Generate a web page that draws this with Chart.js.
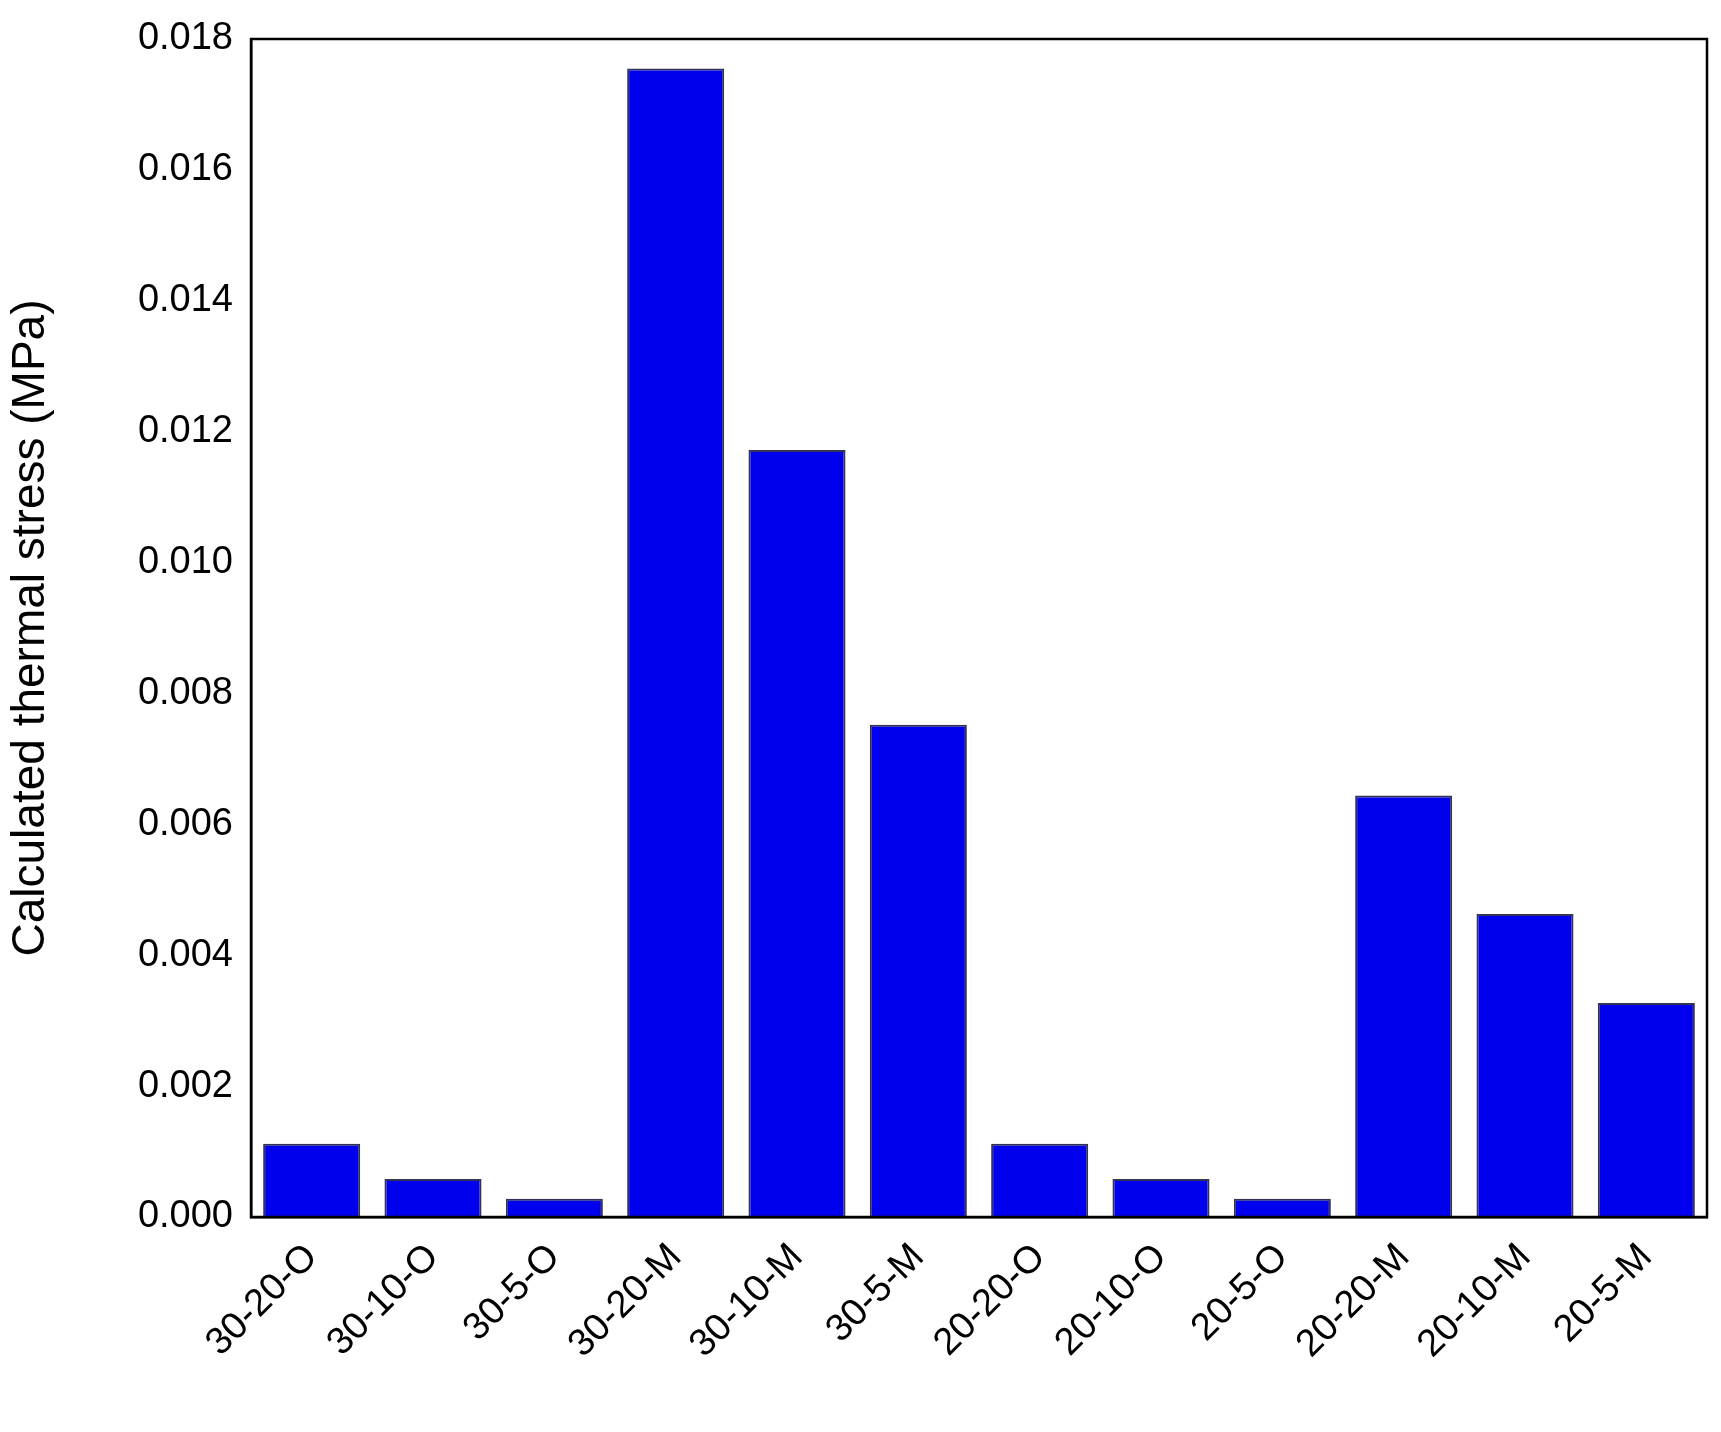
<!DOCTYPE html>
<html><head><meta charset="utf-8">
<script src="https://cdn.jsdelivr.net/npm/chart.js@4/dist/chart.umd.min.js"></script>
<style>html,body{margin:0;padding:0;background:#fff}#w{width:1721px;height:1432px}</style>
</head><body><div id="w"><canvas id="c"></canvas></div>
<script>
const categories=["30-20-O","30-10-O","30-5-O","30-20-M","30-10-M","30-5-M","20-20-O","20-10-O","20-5-O","20-20-M","20-10-M","20-5-M"];
const stressValues=[0.00112,0.00058,0.00028,0.01755,0.01172,0.00752,0.00112,0.00058,0.00028,0.00644,0.00463,0.00327];
const yTicks=[0,0.002,0.004,0.006,0.008,0.010,0.012,0.014,0.016,0.018];
const F="Liberation Sans, Arial, sans-serif";
const frame={id:'frame',afterDraw(c){const a=c.chartArea,x=c.ctx;x.save();x.strokeStyle='#000';x.lineWidth=2.5;x.strokeRect(a.left,a.top,a.right-a.left,a.bottom-a.top);x.restore();}};
new Chart(document.getElementById('c'),{type:'bar',
data:{labels:categories,datasets:[{data:stressValues,backgroundColor:'#0000ee',borderColor:'#333355',borderWidth:2,categoryPercentage:0.8,barPercentage:1}]},
options:{responsive:true,maintainAspectRatio:false,animation:false,
layout:{padding:{top:39,right:14,left:0,bottom:0}},
plugins:{legend:{display:false},tooltip:{enabled:false}},
scales:{
x:{grid:{display:false,drawTicks:true,tickLength:14,tickWidth:2.5,tickColor:'#000'},border:{color:'#000',width:2.5},
 ticks:{color:'#000',font:{family:F,size:38},maxRotation:45,minRotation:45,padding:4},
 afterFit(s){s.height=215;}},
y:{min:0,max:0.018,afterBuildTicks(s){s.ticks=yTicks.map(v=>({value:v}));},
 grid:{display:false,drawTicks:true,tickLength:12,tickWidth:2.5,tickColor:'#000'},border:{color:'#000',width:2.5},
 ticks:{color:'#000',font:{family:F,size:38},padding:6,callback:v=>v.toFixed(3)},
 title:{display:true,text:'Calculated thermal stress (MPa)',color:'#000',font:{family:F,size:46},padding:4},
 afterFit(s){s.width=251;}}
}},plugins:[frame]});
</script></body></html>
